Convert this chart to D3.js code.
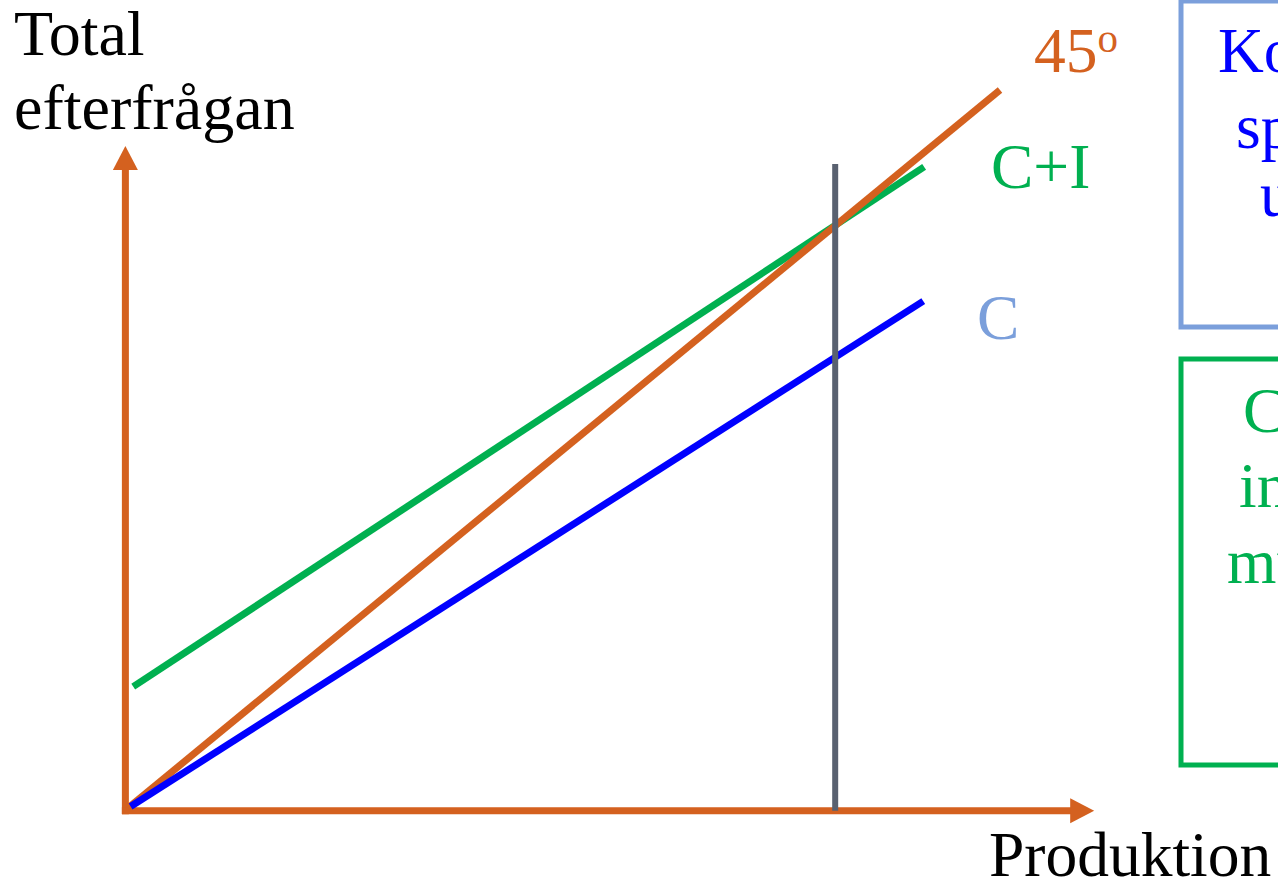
<!DOCTYPE html>
<html>
<head>
<meta charset="utf-8">
<script src="https://cdn.jsdelivr.net/npm/d3@7"></script>
<style>
  html, body { margin: 0; padding: 0; background: #fff; overflow: hidden; }
  svg { display: block; }
  text { font-family: "Liberation Serif", "Times New Roman", serif; }
</style>
</head>
<body>
<script>
// ---- Data (in abstract diagram units: output vs. total demand) ----
const seriesNames = ["45º", "C+I", "C"];
const line45 = [[0, 0], [100, 100]];
const lineCI = [[0.6, 16.9], [91.3, 89.3]];
const lineC = [[0.3, 0.2], [91.2, 70.6]];
const equilibriumX = [81.1];
const equilibriumTop = [89.7];
const axisOrigin = [-0.3, -0.4];
const xAxisEnd = [110.8];
const yAxisEnd = [92.2];
const axisTitles = ["Total", "efterfrågan", "Produktion"];
const boxTextBlue = ["Konsumtions-", "spenderingen", "ut"];
const boxTextGreen = ["C+I ökar", "investeringar", "multiplikator"];

const W = 1278, H = 885;
const colors = {
  orange: "#d4611f",
  green: "#00b050",
  blue: "#0000ff",
  lightBlue: "#7b9fdb",
  gray: "#596170"
};

const svg = d3.select("body").append("svg").attr("width", W).attr("height", H);

const x = d3.scaleLinear().domain([0, 100]).range([128, 1000]);
const y = d3.scaleLinear().domain([0, 100]).range([808, 90]);

const line = d3.line().x(d => x(d[0])).y(d => y(d[1]));

// ---- Axes with arrowheads ----
const arrowLen = 24, arrowHalf = 12.5, axisW = 7;
const ox = x(axisOrigin[0]), oy = y(axisOrigin[1]);
const xe = x(xAxisEnd[0]), ye = y(yAxisEnd[0]);

svg.append("line")
  .attr("x1", ox).attr("y1", oy + axisW / 2)
  .attr("x2", ox).attr("y2", ye + arrowLen - 1)
  .attr("stroke", colors.orange).attr("stroke-width", axisW);
svg.append("path")
  .attr("d", `M${ox},${ye} L${ox - arrowHalf},${ye + arrowLen} L${ox + arrowHalf},${ye + arrowLen} Z`)
  .attr("fill", colors.orange);

svg.append("line")
  .attr("x1", ox - axisW / 2).attr("y1", oy)
  .attr("x2", xe - arrowLen + 1).attr("y2", oy)
  .attr("stroke", colors.orange).attr("stroke-width", axisW);
svg.append("path")
  .attr("d", `M${xe},${oy} L${xe - arrowLen},${oy - arrowHalf} L${xe - arrowLen},${oy + arrowHalf} Z`)
  .attr("fill", colors.orange);

// ---- Lines ----
const lw = 7;
svg.append("path").datum(lineCI).attr("d", line)
  .attr("fill", "none").attr("stroke", colors.green).attr("stroke-width", lw);
svg.append("path").datum(line45).attr("d", line)
  .attr("fill", "none").attr("stroke", colors.orange).attr("stroke-width", lw);
svg.append("path").datum(lineC).attr("d", line)
  .attr("fill", "none").attr("stroke", colors.blue).attr("stroke-width", lw);

// Equilibrium vertical
svg.append("line")
  .attr("x1", x(equilibriumX[0])).attr("x2", x(equilibriumX[0]))
  .attr("y1", y(axisOrigin[1])).attr("y2", y(equilibriumTop[0]))
  .attr("stroke", colors.gray).attr("stroke-width", 6);

// ---- Labels ----
const fs = 63.5;
svg.append("text").attr("x", 14).attr("y", 55).attr("font-size", 64).attr("fill", "#000").text(axisTitles[0]);
svg.append("text").attr("x", 14).attr("y", 129).attr("font-size", 64).attr("fill", "#000").text(axisTitles[1]);
svg.append("text").attr("x", 989).attr("y", 876).attr("font-size", fs).attr("fill", "#000").text(axisTitles[2]);

const t45 = svg.append("text").attr("x", 1034).attr("y", 72).attr("font-size", fs).attr("fill", colors.orange);
t45.append("tspan").text("45");
t45.append("tspan").attr("font-size", 41).attr("dy", -20).text("o");

svg.append("text").attr("x", 991).attr("y", 188).attr("font-size", fs).attr("fill", colors.green).text(seriesNames[1]);
svg.append("text").attr("x", 977).attr("y", 339).attr("font-size", fs).attr("fill", colors.lightBlue).text(seriesNames[2]);

// ---- Text boxes (cut by the right edge) ----
svg.append("rect").attr("x", 1181).attr("y", 1).attr("width", 300).attr("height", 326)
  .attr("fill", "none").attr("stroke", colors.lightBlue).attr("stroke-width", 5);
const blueX = [1218, 1236, 1260], blueY = [72, 148, 216];
boxTextBlue.forEach((t, i) => {
  svg.append("text").attr("x", blueX[i]).attr("y", blueY[i]).attr("font-size", fs).attr("fill", colors.blue).text(t);
});

svg.append("rect").attr("x", 1181).attr("y", 359).attr("width", 300).attr("height", 406)
  .attr("fill", "none").attr("stroke", colors.green).attr("stroke-width", 5);
const greenX = [1243, 1239, 1227], greenY = [432, 507, 583];
boxTextGreen.forEach((t, i) => {
  svg.append("text").attr("x", greenX[i]).attr("y", greenY[i]).attr("font-size", fs).attr("fill", colors.green).text(t);
});
</script>
</body>
</html>
